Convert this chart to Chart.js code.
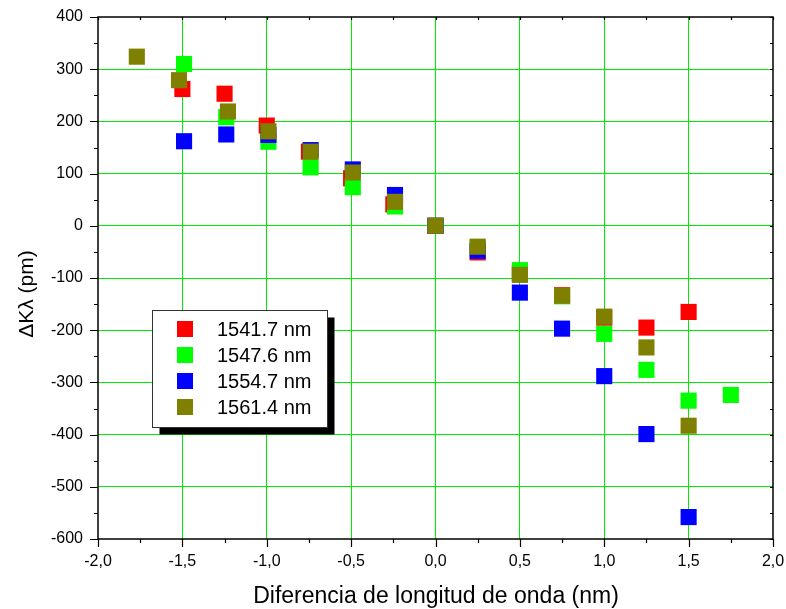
<!DOCTYPE html>
<html><head><meta charset="utf-8">
<script src="https://cdn.jsdelivr.net/npm/chart.js@4/dist/chart.umd.min.js"></script>
<style>html,body{margin:0;padding:0;background:#fff}#wrap{width:786px;height:609px;position:relative}</style>
</head><body><div id="wrap"><canvas id="c"></canvas></div>
<script>
// ---- data ----
const seriesNames = ['1541.7 nm', '1547.6 nm', '1554.7 nm', '1561.4 nm'];

const redX   = [-1.5, -1.25, -1.0, -0.75, -0.5, -0.25, 0, 0.25, 0.5, 0.75, 1.0, 1.25, 1.5];
const redY   = [262, 253, 192, 142, 91, 41, 0, -51, -92, -133, -176, -195, -165];

const greenX = [-1.49, -1.24, -0.99, -0.74, -0.49, -0.24, 0, 0.25, 0.5, 0.75, 1.0, 1.25, 1.5, 1.75];
const greenY = [310, 208, 161, 112, 74, 37, 0, -42, -85, -135, -207, -276, -335, -324];

const blueX  = [-1.49, -1.24, -0.99, -0.74, -0.49, -0.24, 0, 0.25, 0.5, 0.75, 1.0, 1.25, 1.5];
const blueY  = [162, 175, 174, 145, 108, 59, 0, -48, -128, -197, -288, -399, -558];

const oliveX = [-1.77, -1.52, -1.23, -0.99, -0.74, -0.49, -0.24, 0, 0.25, 0.5, 0.75, 1.0, 1.25, 1.5];
const oliveY = [324, 279, 219, 181, 142, 102, 46, 0, -40, -94, -134, -174, -233, -383];

const xTitle = 'Diferencia de longitud de onda (nm)';
const yTitle = '\u0394K\u03bb (pm)';

// ---- chart ----
const colors = ['#ff0000', '#00ff00', '#0000ff', '#808000'];
const xs = [redX, greenX, blueX, oliveX];
const ys = [redY, greenY, blueY, oliveY];
function pts(i) { return xs[i].map((x, k) => ({x: x, y: ys[i][k]})); }

// dataset 0 is drawn on top in Chart.js, so list olive first
const drawOrder = [3, 2, 1, 0];
const datasets = drawOrder.map(i => ({
  label: seriesNames[i],
  data: pts(i),
  backgroundColor: colors[i],
  borderWidth: 0,
  pointStyle: 'rect',
  pointRadius: 11.4,
  pointHoverRadius: 11.4
}));

const FONT = "'Liberation Sans', Arial, sans-serif";
const near = (a, b) => Math.abs(a - b) < 1e-6;

const decor = {
  id: 'decor',
  afterDraw(chart) {
    const ctx = chart.ctx, a = chart.chartArea;
    const xS = chart.scales.x, yS = chart.scales.y;
    ctx.save();
    // frame
    ctx.strokeStyle = '#000';
    ctx.lineWidth = 1.5;
    ctx.strokeRect(a.left, a.top, a.right - a.left, a.bottom - a.top);
    ctx.lineWidth = 1.2;
    ctx.beginPath();
    for (let v = -600; v <= 400; v += 50) {
      const y = Math.round(yS.getPixelForValue(v)) + 0.5;
      const major = v % 100 === 0;
      ctx.moveTo(a.left, y); ctx.lineTo(a.left - (major ? 8 : 4), y);
      ctx.moveTo(a.right, y); ctx.lineTo(a.right - 3, y);
    }
    for (let k = -8; k <= 8; k++) {
      const v = k * 0.25;
      const x = Math.round(xS.getPixelForValue(v)) + 0.5;
      const major = k % 2 === 0;
      ctx.moveTo(x, a.bottom); ctx.lineTo(x, a.bottom + (major ? 8 : 4));
      ctx.moveTo(x, a.top); ctx.lineTo(x, a.top + 3);
    }
    ctx.stroke();

    // axis titles
    ctx.fillStyle = '#000';
    ctx.font = '23px ' + FONT;
    ctx.textAlign = 'center';
    ctx.textBaseline = 'alphabetic';
    ctx.fillText(xTitle, 436, 603);
    ctx.save();
    ctx.translate(33, 294);
    ctx.rotate(-Math.PI / 2);
    ctx.font = '21px ' + FONT;
    ctx.fillText(yTitle, 0, 0);
    ctx.restore();

    // legend box with shadow
    const bx = 152.5, by = 310.5, bw = 175, bh = 117;
    ctx.fillStyle = '#000';
    ctx.fillRect(bx + 7, by + 7, bw, bh);
    ctx.fillStyle = '#fff';
    ctx.fillRect(bx, by, bw, bh);
    ctx.strokeStyle = '#333';
    ctx.lineWidth = 1;
    ctx.strokeRect(bx, by, bw, bh);
    ctx.font = '20px ' + FONT;
    ctx.textAlign = 'left';
    ctx.textBaseline = 'middle';
    for (let i = 0; i < 4; i++) {
      const cy = 329 + i * 26;
      ctx.fillStyle = colors[i];
      ctx.fillRect(177, cy - 8, 16, 16);
      ctx.fillStyle = '#000';
      ctx.fillText(seriesNames[i], 217, cy + 1);
    }
    ctx.restore();
  }
};

function noPad(s) { s.paddingTop = 0; s.paddingBottom = 0; s.paddingLeft = 0; s.paddingRight = 0; }

new Chart(document.getElementById('c'), {
  type: 'scatter',
  data: { datasets: datasets },
  options: {
    responsive: true,
    maintainAspectRatio: false,
    animation: false,
    devicePixelRatio: 1,
    layout: { padding: { left: 0, right: 13, top: 17, bottom: 0 } },
    plugins: { legend: { display: false }, tooltip: { enabled: false } },
    scales: {
      x: {
        type: 'linear', min: -2, max: 2,
        afterFit(s) { s.height = 70; noPad(s); },
        border: { display: false },
        grid: {
          drawTicks: false,
          lineWidth: 1,
          color: c => {
            const v = c.tick ? c.tick.value : 0;
            const m = Math.abs(v * 2 - Math.round(v * 2)) < 1e-6;
            return (m && !near(Math.abs(v), 2)) ? '#00ee00' : 'rgba(0,0,0,0)';
          }
        },
        ticks: {
          stepSize: 0.25, autoSkip: false, maxRotation: 0, padding: 13,
          color: '#000', font: { family: FONT, size: 16 },
          callback: v => {
            const m = Math.abs(v * 2 - Math.round(v * 2)) < 1e-6;
            if (!m) return '';
            const r = Math.round(v * 10) / 10;
            return (Math.abs(r) < 1e-9 ? 0 : r).toFixed(1).replace('.', ',');
          }
        }
      },
      y: {
        type: 'linear', min: -600, max: 400,
        afterFit(s) { s.width = 98; noPad(s); },
        border: { display: false },
        grid: {
          drawTicks: false,
          lineWidth: 1,
          color: c => {
            const v = c.tick ? c.tick.value : 0;
            return (v % 100 === 0 && v !== 400 && v !== -600) ? '#00ee00' : 'rgba(0,0,0,0)';
          }
        },
        ticks: {
          stepSize: 50, autoSkip: false, padding: 15,
          color: '#000', font: { family: FONT, size: 16 },
          callback: v => (v % 100 === 0 ? String(v) : '')
        }
      }
    }
  },
  plugins: [decor]
});
</script>
</body></html>
